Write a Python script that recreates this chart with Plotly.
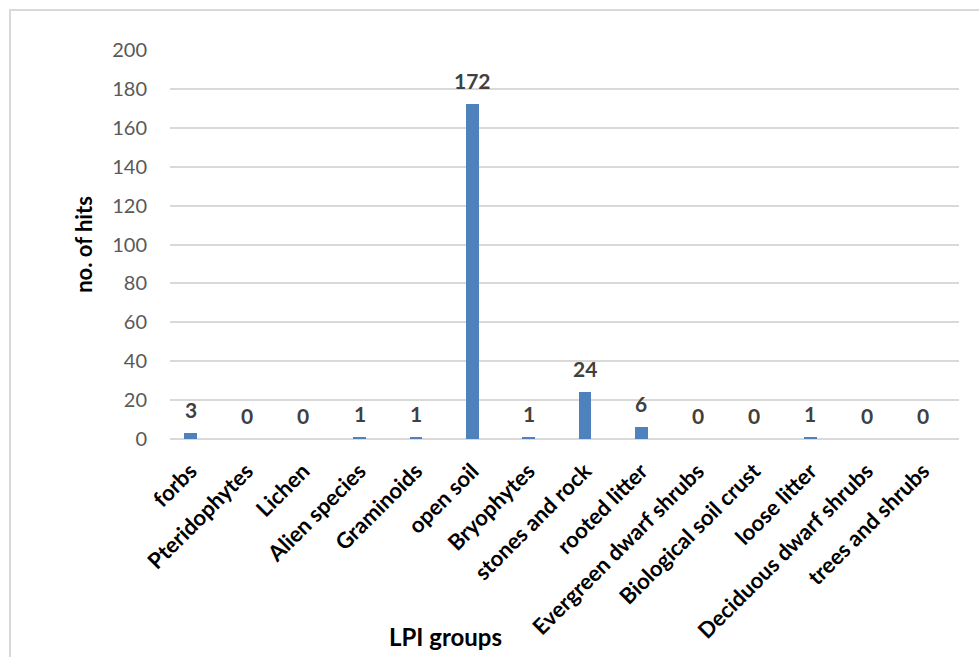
import plotly.graph_objects as go

# LPI group hit counts
categories = [
    "forbs", "Pteridophytes", "Lichen", "Alien species", "Graminoids",
    "open soil", "Bryophytes", "stones and rock", "rooted litter",
    "Evergreen dwarf shrubs", "Biological soil crust", "loose litter",
    "Deciduous dwarf shrubs", "trees and shrubs",
]
hits = [3, 0, 0, 1, 1, 172, 1, 24, 6, 0, 0, 1, 0, 0]
y_ticks = [0, 20, 40, 60, 80, 100, 120, 140, 160, 180, 200]

FONT = "Lato"
BAR_COLOR = "#4F81BD"
GRID = "#D9D9D9"

W, H = 979, 657
L, R, T, B = 170, 20, 50, 218
plot_w = W - L - R
plot_h = H - T - B


def px_x(px):
    return (px - L) / plot_w


def px_y(py):
    return (H - B - py) / plot_h


fig = go.Figure()
fig.add_trace(go.Bar(
    x=categories,
    y=hits,
    marker=dict(color=BAR_COLOR, line=dict(width=0)),
    width=0.22,
    hoverinfo="x+y",
))

# value labels above each bar
annotations = [
    dict(
        x=c, y=v, xref="x", yref="y",
        text=f"<b>{v}</b>", showarrow=False,
        yanchor="bottom", yshift=9,
        font=dict(family=FONT, size=21, color="#404040"),
    )
    for c, v in zip(categories, hits)
]
annotations.append(dict(
    x=px_x(445), y=px_y(636), xref="paper", yref="paper",
    xanchor="center", yanchor="middle",
    text="<b>LPI groups</b>", showarrow=False,
    font=dict(family=FONT, size=24, color="#000000"),
))

fig.update_layout(
    width=W, height=H,
    margin=dict(l=L, r=R, t=T, b=B),
    paper_bgcolor="white",
    plot_bgcolor="white",
    showlegend=False,
    bargap=0,
    annotations=annotations,
)

# chart-area frame
fig.add_shape(
    type="rect", xref="paper", yref="paper",
    x0=px_x(10), x1=px_x(990),
    y0=px_y(670), y1=px_y(10),
    line=dict(color="#D9D9D9", width=2), layer="below",
)

fig.update_xaxes(
    range=[-0.364, 13.636],
    tickmode="array",
    tickvals=categories,
    ticktext=[f"<b>{c}</b>" for c in categories],
    tickangle=-45,
    tickfont=dict(family=FONT, size=22, color="#000000"),
    showgrid=False, showline=False, zeroline=False,
    ticks="", ticklabelstandoff=14,
)
fig.update_yaxes(
    range=[0, 200],
    tickvals=y_ticks,
    tickfont=dict(family=FONT, size=20, color="#595959"),
    showgrid=True, gridcolor=GRID, gridwidth=1.5,
    zeroline=True, zerolinecolor=GRID, zerolinewidth=1.5,
    showline=False, ticks="", ticklabelstandoff=22,
    title=dict(text="<b>no. of hits</b>", standoff=13,
               font=dict(family=FONT, size=22, color="#000000")),
)

fig.write_html("out.html")
